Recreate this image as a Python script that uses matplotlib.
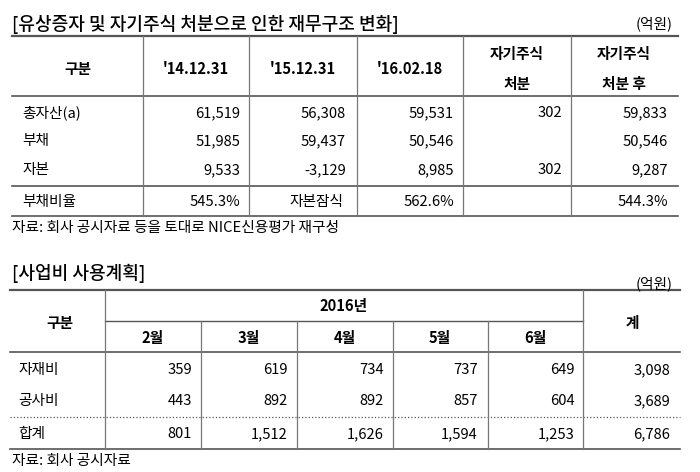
import matplotlib
matplotlib.use("Agg")
import matplotlib.pyplot as plt
from matplotlib import font_manager

cjk = [f.name for f in font_manager.fontManager.ttflist if "CJK" in f.name and "Sans" in f.name]
kr = [n for n in cjk if "KR" in n] or cjk
plt.rcParams["font.family"] = (kr[:1] + ["DejaVu Sans"]) if kr else ["DejaVu Sans"]

# table 1
t1_title = "[유상증자 및 자기주식 처분으로 인한 재무구조 변화]"
t1_cols = ["'14.12.31", "'15.12.31", "'16.02.18", "자기주식\n처분", "자기주식\n처분 후"]
t1_rows = ["총자산(a)", "부채", "자본"]
t1_vals = [
    ["61,519", "56,308", "59,531", "302", "59,833"],
    ["51,985", "59,437", "50,546", "", "50,546"],
    ["9,533", "-3,129", "8,985", "302", "9,287"],
]
t1_last_label = "부채비율"
t1_last = ["545.3%", "자본잠식", "562.6%", "", "544.3%"]
t1_source = "자료: 회사 공시자료 등을 토대로 NICE신용평가 재구성"

# table 2
t2_title = "[사업비 사용계획]"
t2_year = "2016년"
t2_months = ["2월", "3월", "4월", "5월", "6월"]
t2_rows = ["자재비", "공사비", "합계"]
t2_vals = [
    ["359", "619", "734", "737", "649", "3,098"],
    ["443", "892", "892", "857", "604", "3,689"],
    ["801", "1,512", "1,626", "1,594", "1,253", "6,786"],
]
t2_source = "자료: 회사 공시자료"

fig = plt.figure(figsize=(7, 4.72), dpi=100)
ax = fig.add_axes([0, 0, 1, 1])
ax.set_xlim(0, 700)
ax.set_ylim(472, 0)
ax.axis("off")

FS = 10.6
TFS = 13
dark = "#555555"
vcol = "#777777"

def hline(y, x0, x1, **kw):
    ax.plot([x0, x1], [y, y], color=kw.get("c", dark), lw=kw.get("lw", 1.2), ls=kw.get("ls", "-"))

def vline(x, y0, y1):
    ax.plot([x, x], [y0, y1], color=vcol, lw=0.9)

# ---- table 1
L, R = 12, 678
ax.text(12, 24, t1_title, fontsize=TFS, fontweight="medium", va="center", ha="left")
ax.text(673, 24, "(억원)", fontsize=FS, va="center", ha="right")
top, hb, mid, bot = 36, 96, 186, 216
hline(top, L, R, lw=1.6)
hline(hb, L, R)
hline(mid, L, R)
hline(bot, L, R)
xb = [143, 249, 357, 463, 571]
for x in xb:
    vline(x, top, bot)
centers = [78, 196, 303, 410, 517, 624]
rights = [240, 346, 454, 562, 668]
ax.text(centers[0], 69, "구분", fontsize=FS, fontweight="bold", ha="center", va="center")
for i, c in enumerate(t1_cols):
    if "\n" in c:
        a, b = c.split("\n")
        ax.text(centers[i + 1], 54, a, fontsize=FS, fontweight="bold", ha="center", va="center")
        ax.text(centers[i + 1], 84, b, fontsize=FS, fontweight="bold", ha="center", va="center")
    else:
        ax.text(centers[i + 1], 69, c, fontsize=FS, fontweight="bold", ha="center", va="center")
for r, (lab, vals) in enumerate(zip(t1_rows, t1_vals)):
    y = [113, 141, 170][r]
    ax.text(22, y, lab, fontsize=FS, ha="left", va="center")
    for j, v in enumerate(vals):
        ax.text(rights[j], y, v, fontsize=FS, ha="right", va="center")
ax.text(22, 202, t1_last_label, fontsize=FS, ha="left", va="center")
for j, v in enumerate(t1_last):
    if v == "자본잠식":
        ax.text(rights[j] - 3, 202, v, fontsize=FS, ha="right", va="center")
    else:
        ax.text(rights[j], 202, v, fontsize=FS, ha="right", va="center")
ax.text(12, 228, t1_source, fontsize=FS, ha="left", va="center")

# ---- table 2
L2, R2 = 10, 680
ax.text(12, 273, t2_title, fontsize=TFS, fontweight="medium", va="center", ha="left")
ax.text(673, 284, "(억원)", fontsize=FS, va="center", ha="right")
top2, sp, hb2, dot, bot2 = 290, 321, 352, 417, 449
hline(top2, L2, R2, lw=1.6)
hline(sp, 105, 583, lw=1.0)
hline(hb2, L2, R2)
hline(dot, L2, R2, lw=0.9, ls=":")
hline(bot2, L2, R2)
vline(105, top2, bot2)
vline(583, top2, bot2)
mx = [201, 297, 393, 488]
for x in mx:
    vline(x, sp, bot2)
ax.text(60, 323, "구분", fontsize=FS, fontweight="bold", ha="center", va="center")
ax.text(344, 306, t2_year, fontsize=FS, fontweight="bold", ha="center", va="center")
ax.text(632, 323, "계", fontsize=FS, fontweight="bold", ha="center", va="center")
mc = [153, 249, 345, 440, 535]
for m, x in zip(t2_months, mc):
    ax.text(x, 338, m, fontsize=FS, fontweight="bold", ha="center", va="center")
r2 = [192, 288, 384, 478, 575, 670]
for r, (lab, vals) in enumerate(zip(t2_rows, t2_vals)):
    y = [370, 401, 434][r]
    ax.text(18, y, lab, fontsize=FS, ha="left", va="center")
    for j, v in enumerate(vals):
        ax.text(r2[j], y, v, fontsize=FS, ha="right", va="center")
ax.text(12, 461, t2_source, fontsize=FS, ha="left", va="center")

fig.savefig("out.png", dpi=100)
